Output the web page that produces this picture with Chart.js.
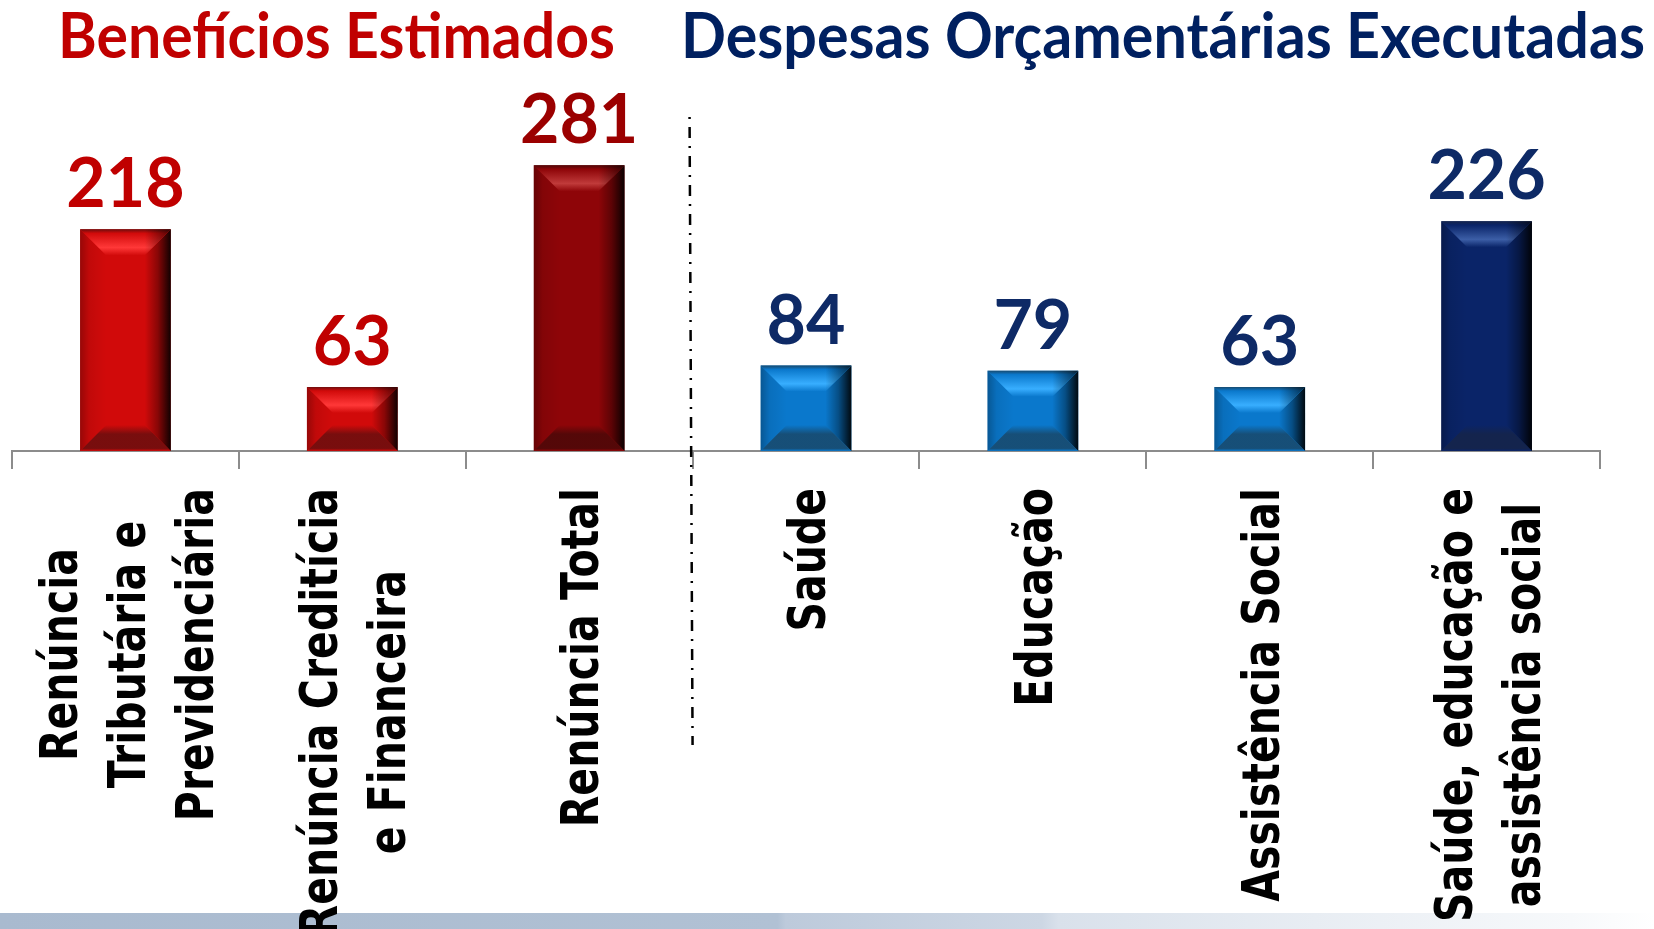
<!DOCTYPE html>
<html>
<head>
<meta charset="utf-8">
<script src="https://cdn.jsdelivr.net/npm/chart.js@4.4.1/dist/chart.umd.min.js"></script>
<style>
html,body{margin:0;padding:0;background:#fff;overflow:hidden}
#wrap{position:relative;width:1654px;height:929px}
canvas{display:block}
</style>
</head>
<body>
<div id="wrap"><canvas id="c" width="1654" height="929"></canvas></div>
<script>
// ---- data ----
const categories = [
  ["Renúncia", "Tributária e", "Previdenciária"],
  ["Renúncia Creditícia", "e Financeira"],
  ["Renúncia Total"],
  ["Saúde"],
  ["Educação"],
  ["Assistência Social"],
  ["Saúde, educação e", "assistência social"]
];
const values = [218, 63, 281, 84, 79, 63, 226];
const groupTitles = ["Benefícios Estimados", "Despesas Orçamentárias Executadas"];
const yMin = 0;
const yMax = 300;

// ---- styles ----
const barFill  = ['#D10A0A', '#D10A0A', '#8E0508', '#0A78CC', '#0A78CC', '#0A78CC', '#0A2468'];
const barLight = ['#FF3838', '#FF3838', '#C03A3A', '#38AEFF', '#38AEFF', '#38AEFF', '#3C5EA6'];
const barDark  = ['#6E0E0E', '#6E0E0E', '#4E0808', '#184A6E', '#184A6E', '#184A6E', '#15244A'];
const labelColor = ['#C00000', '#C00000', '#9B0000', '#0E2A66', '#0E2A66', '#0E2A66', '#0E2A66'];
const titleColor = ['#C00000', '#002060'];

function poly(ctx, pts, fill) {
  ctx.beginPath();
  ctx.moveTo(pts[0][0], pts[0][1]);
  for (let k = 1; k < pts.length; k++) ctx.lineTo(pts[k][0], pts[k][1]);
  ctx.closePath();
  ctx.fillStyle = fill;
  ctx.fill();
}

function bevel(ctx, el, i) {
  const x0 = el.x - el.width / 2, x1 = el.x + el.width / 2;
  const y0 = el.y, y1 = el.base;
  const h = y1 - y0;
  const b = Math.min(26, h / 2, el.width / 2);
  // left band
  let g = ctx.createLinearGradient(x0, 0, x0 + b, 0);
  g.addColorStop(0, 'rgba(0,0,0,0.28)');
  g.addColorStop(0.35, 'rgba(0,0,0,0.08)');
  g.addColorStop(1, 'rgba(0,0,0,0)');
  poly(ctx, [[x0, y0], [x0 + b, y0 + b], [x0 + b, y1 - b], [x0, y1]], g);
  // right band
  g = ctx.createLinearGradient(x1 - b, 0, x1, 0);
  g.addColorStop(0, 'rgba(0,0,0,0)');
  g.addColorStop(0.5, 'rgba(0,0,0,0.35)');
  g.addColorStop(1, 'rgba(0,0,0,0.92)');
  poly(ctx, [[x1, y0], [x1, y1], [x1 - b, y1 - b], [x1 - b, y0 + b]], g);
  // top band
  g = ctx.createLinearGradient(0, y0, 0, y0 + b);
  g.addColorStop(0, barDark[i]);
  g.addColorStop(0.15, barFill[i]);
  g.addColorStop(0.7, barLight[i]);
  g.addColorStop(1, barFill[i]);
  poly(ctx, [[x0, y0], [x1, y0], [x1 - b, y0 + b], [x0 + b, y0 + b]], g);
  // bottom band
  g = ctx.createLinearGradient(0, y1 - b, 0, y1);
  g.addColorStop(0, barFill[i]);
  g.addColorStop(0.35, barDark[i]);
  g.addColorStop(0.9, barDark[i]);
  g.addColorStop(1, barFill[i]);
  ctx.globalAlpha = 0.9;
  poly(ctx, [[x0, y1], [x1, y1], [x1 - b, y1 - b], [x0 + b, y1 - b]], g);
  ctx.globalAlpha = 1;
  // shade right corner of top band
  g = ctx.createLinearGradient(x1 - b, 0, x1, 0);
  g.addColorStop(0, 'rgba(0,0,0,0)');
  g.addColorStop(1, 'rgba(0,0,0,0.6)');
  poly(ctx, [[x1, y0], [x1 - b, y0 + b], [x1 - b, y0]], g);
}

const deco = {
  id: 'deco',
  beforeDraw(chart) {
    const ctx = chart.ctx;
    ctx.save();
    ctx.fillStyle = '#ffffff';
    ctx.fillRect(0, 0, chart.width, chart.height);
    const g = ctx.createLinearGradient(0, 0, chart.width, 0);
    g.addColorStop(0, '#A9BACF');
    g.addColorStop(0.47, '#B1C1D4');
    g.addColorStop(0.475, '#BDCADB');
    g.addColorStop(0.63, '#CDD7E4');
    g.addColorStop(0.64, '#D9E1EB');
    g.addColorStop(0.95, '#F7F9FB');
    g.addColorStop(1, '#FFFFFF');
    ctx.fillStyle = g;
    ctx.fillRect(0, 913, chart.width, 16);
    ctx.restore();
  },
  afterDatasetsDraw(chart) {
    const ctx = chart.ctx;
    const meta = chart.getDatasetMeta(0);
    ctx.save();
    meta.data.forEach((el, i) => bevel(ctx, el, i));
    // value labels
    ctx.font = 'bold 68px Lato, "Liberation Sans", sans-serif';
    ctx.textAlign = 'center';
    ctx.textBaseline = 'alphabetic';
    meta.data.forEach((el, i) => {
      ctx.fillStyle = labelColor[i];
      ctx.fillText(String(values[i]), el.x, el.y - 22);
    });
    ctx.restore();
  },
  afterDraw(chart) {
    const ctx = chart.ctx;
    const xs = chart.scales.x;
    ctx.save();
    // divider (dash-dot)
    const xd = (xs.getPixelForValue(2) + xs.getPixelForValue(3)) / 2;
    ctx.strokeStyle = '#000';
    ctx.lineWidth = 2.5;
    ctx.setLineDash([2, 8, 11, 8]);
    ctx.beginPath();
    ctx.moveTo(xd - 3, 117);
    ctx.lineTo(xd, 745);
    ctx.stroke();
    ctx.setLineDash([]);

    // category labels (rotated)
    ctx.font = 'bold 41px "DejaVu Sans", Verdana, sans-serif';
    ctx.fillStyle = '#000';
    ctx.textAlign = 'center';
    ctx.textBaseline = 'middle';
    const lh = 68, topY = 488, shiftX = 6;
    categories.forEach((lines, i) => {
      const cx = xs.getPixelForValue(i) + shiftX;
      const maxW = Math.max(...lines.map(l => ctx.measureText(l).width));
      const cy = topY + maxW / 2;
      lines.forEach((line, k) => {
        const lx = cx + (k - (lines.length - 1) / 2) * lh;
        ctx.save();
        ctx.translate(lx, cy);
        ctx.rotate(-Math.PI / 2);
        ctx.scale(1, 1.24);
        ctx.fillText(line, 0, 0);
        ctx.restore();
      });
    });

    // group titles
    const tpos = [[58, 557], [681, 964]];
    ctx.font = 'bold 63px Lato, "Liberation Sans", sans-serif';
    ctx.textAlign = 'left';
    ctx.textBaseline = 'alphabetic';
    groupTitles.forEach((t, i) => {
      const w = ctx.measureText(t).width;
      ctx.save();
      ctx.translate(tpos[i][0], 58);
      ctx.scale(tpos[i][1] / w, 1);
      ctx.fillStyle = titleColor[i];
      ctx.fillText(t, 0, 0);
      ctx.restore();
    });
    ctx.restore();
  }
};

new Chart(document.getElementById('c'), {
  type: 'bar',
  data: {
    labels: categories,
    datasets: [{
      data: values,
      backgroundColor: barFill,
      borderWidth: 0,
      barPercentage: 0.4,
      categoryPercentage: 1.0
    }]
  },
  options: {
    responsive: false,
    animation: false,
    events: [],
    layout: { padding: { top: 146, left: 12, right: 54, bottom: 0 } },
    plugins: { legend: { display: false }, tooltip: { enabled: false }, title: { display: false } },
    scales: {
      x: {
        offset: true,
        ticks: { display: false },
        grid: { display: true, drawOnChartArea: false, drawTicks: true, tickLength: 18, color: '#8C8C8C', lineWidth: 2, offset: true },
        border: { display: true, color: '#8C8C8C', width: 2 },
        afterFit(s) { s.height = 929 - 451; }
      },
      y: {
        display: false,
        min: yMin,
        max: yMax
      }
    }
  },
  plugins: [deco]
});
</script>
</body>
</html>
